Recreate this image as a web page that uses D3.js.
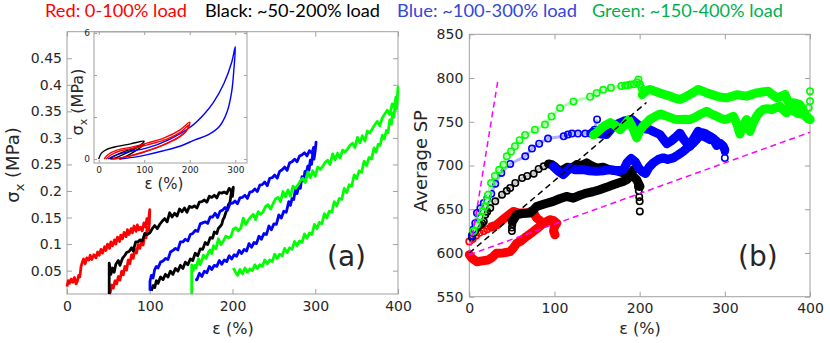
<html>
<head>
<style>
body{margin:0;background:#fff;}
svg text{font-family:"DejaVu Sans",sans-serif;fill:#262626;}
</style>
</head>
<body>
<script src="https://d3js.org/d3.v7.min.js"></script>
<div id="chart"></div>
<script>
// ---------- data ----------
var titleLabels = ["Red: 0-100% load", "Black: ~50-200% load", "Blue: ~100-300% load", "Green: ~150-400% load"];
var titleColors = ["#ff0000", "#000000", "#3347d8", "#00b04f"];

var ticksA_x = [0, 100, 200, 300, 400];
var ticksA_y = [0.05, 0.1, 0.15, 0.2, 0.25, 0.3, 0.35, 0.4, 0.45];
var ticksB_x = [0, 100, 200, 300, 400];
var ticksB_y = [550, 600, 650, 700, 750, 800, 850];
var ticksI_x = [0, 100, 200, 300];
var ticksI_y = [0, 2, 4, 6];
var labelsI_y = {0: "0", 6: "6"};

// panel (a): strain (%) vs stress (MPa), load then unload
var redA = [[0,0.02],[1.5,0.031],[3,0.026],[5,0.034],[7,0.028],[9,0.037],[11,0.025],[12.5,0.03],[14,0.041],[15.5,0.038],[17,0.058],[18.5,0.066],[20,0.072],[22,0.063],[24,0.074],[26.5,0.07],[28,0.079],[30,0.071],[32.5,0.08],[35,0.074],[37,0.085],[39,0.079],[41,0.09],[43,0.083],[45.5,0.095],[47,0.088],[49,0.1],[51.5,0.092],[53,0.104],[55,0.097],[57.5,0.108],[59,0.1],[61,0.113],[63.5,0.105],[65,0.117],[67,0.11],[69,0.122],[71.5,0.114],[73,0.127],[75,0.118],[77.5,0.129],[79,0.121],[81,0.134],[83.5,0.124],[85,0.136],[87,0.127],[89,0.132],[91,0.125],[93,0.14],[95,0.132],[96.5,0.148],[98,0.138],[99.5,0.158],[100,0.165],
  [99.5,0.138],[98.5,0.126],[97,0.131],[95.5,0.112],[94,0.119],[92,0.098],[90,0.105],[88,0.092],[86,0.099],[84,0.083],[82,0.09],[80,0.073],[78,0.08],[76,0.063],[74,0.07],[72,0.051],[70,0.058],[68,0.042],[66,0.049],[64,0.032],[62,0.039],[60,0.025],[58,0.031],[56,0.017],[54,0.023],[52.5,0.01],[51,0.006]];

var blackA = [[51,0.006],[51,0.064],[53,0.043],[55,0.055],[57,0.047],[59,0.062],[62,0.069],[64,0.06],[67,0.073],[70,0.079],[72,0.084],[75,0.086],[78,0.093],[80,0.087],[83,0.104],[86,0.104],[88,0.108],[91,0.106],[94,0.12],[97,0.118],[100,0.121],[103,0.129],[106,0.135],[109,0.129],[112,0.137],[115,0.143],[118,0.148],[121,0.142],[124,0.159],[127,0.151],[130,0.158],[133,0.153],[136,0.166],[139,0.161],[142,0.168],[145,0.16],[148,0.171],[151,0.169],[154,0.172],[157,0.168],[160,0.179],[163,0.18],[166,0.183],[169,0.179],[172,0.19],[175,0.188],[178,0.192],[181,0.187],[184,0.197],[187,0.196],[190,0.198],[193,0.195],[196,0.205],[199,0.199],[201,0.207],
  [200,0.19],[198.5,0.197],[197,0.179],[195,0.174],[193.5,0.164],[192,0.16],[190,0.15],[188.5,0.146],[187,0.137],[185,0.133],[183,0.13],[181,0.12],[178,0.123],[176,0.111],[173,0.112],[170,0.099],[167,0.103],[164,0.09],[161,0.091],[158,0.078],[155,0.083],[152,0.069],[149,0.072],[146,0.061],[143,0.066],[140,0.054],[137,0.06],[134,0.049],[131,0.054],[128,0.043],[125,0.049],[122,0.038],[119,0.043],[116,0.033],[113,0.038],[110,0.026],[108,0.031],[106,0.018],[104,0.022],[102,0.012]];

var blueA = [[100.3,0.012],[100.3,0.03],[102,0.041],[104,0.036],[106,0.052],[108,0.058],[110,0.055],[113,0.066],[116,0.068],[119,0.073],[122,0.071],[125,0.085],[128,0.088],[131,0.092],[134,0.089],[137,0.104],[140,0.104],[143,0.109],[146,0.106],[149,0.118],[152,0.12],[155,0.126],[158,0.124],[161,0.138],[164,0.14],[167,0.142],[170,0.139],[173,0.151],[176,0.151],[179,0.158],[182,0.15],[185,0.162],[188,0.164],[191,0.169],[194,0.164],[197,0.176],[200,0.177],[203,0.181],[206,0.176],[209,0.187],[212,0.188],[215,0.192],[218,0.186],[221,0.198],[224,0.199],[227,0.204],[230,0.199],[233,0.211],[236,0.212],[239,0.217],[242,0.21],[245,0.224],[248,0.225],[251,0.23],[254,0.224],[257,0.237],[260,0.24],[263,0.245],[266,0.239],[269,0.253],[272,0.255],[275,0.26],[278,0.255],[281,0.266],[284,0.268],[287,0.272],[290,0.266],[293,0.276],[296,0.271],[298,0.282],[300,0.277],[301,0.292],
  [300,0.276],[298.5,0.26],[297,0.27],[295.5,0.25],[294,0.258],[292.5,0.239],[291,0.247],[289,0.233],[287.5,0.237],[286,0.219],[284,0.227],[282,0.205],[280,0.209],[278,0.195],[276,0.203],[274,0.184],[272,0.186],[270,0.173],[268,0.18],[265,0.16],[262,0.162],[259,0.149],[256,0.155],[253,0.137],[250,0.138],[247,0.127],[244,0.134],[241,0.118],[238,0.12],[235,0.109],[232,0.115],[229,0.101],[226,0.103],[223,0.094],[220,0.101],[217,0.087],[214,0.09],[211,0.082],[208,0.088],[205,0.077],[202,0.08],[199,0.072],[196,0.078],[193,0.067],[190,0.07],[187,0.062],[184,0.069],[181,0.058],[178,0.06],[175,0.052],[172,0.058],[169,0.046],[166,0.049],[163,0.039],[160,0.045],[157,0.033],[155,0.032]];

var greenA = [[150.7,0.006],[150.7,0.061],[152.5,0.05],[154.5,0.06],[156,0.055],[159,0.072],[161,0.061],[163,0.07],[165,0.079],[168,0.073],[171,0.084],[173,0.089],[175,0.082],[177,0.097],[180,0.091],[183,0.11],[186,0.099],[189,0.106],[192,0.115],[195,0.112],[198,0.114],[201,0.128],[204,0.131],[207,0.125],[210,0.13],[213,0.149],[216,0.137],[219,0.145],[222,0.151],[225,0.156],[228,0.146],[231,0.161],[234,0.156],[237,0.161],[240,0.171],[243,0.174],[246,0.166],[249,0.176],[252,0.185],[255,0.188],[258,0.18],[261,0.199],[264,0.189],[267,0.202],[270,0.19],[273,0.209],[276,0.205],[279,0.211],[282,0.219],[285,0.224],[288,0.216],[291,0.236],[294,0.225],[297,0.238],[300,0.228],[303,0.245],[306,0.241],[309,0.246],[312,0.254],[315,0.258],[318,0.25],[321,0.27],[324,0.259],[327,0.271],[330,0.262],[333,0.277],[336,0.273],[339,0.279],[342,0.286],[345,0.29],[348,0.282],[351,0.301],[354,0.291],[357,0.304],[360,0.294],[363,0.313],[366,0.309],[369,0.317],[372,0.325],[375,0.331],[378,0.323],[381,0.338],[384,0.345],[387,0.352],[390,0.344],[393,0.364],[395.5,0.358],[397.5,0.377],[399,0.372],[400,0.395],
  [399,0.366],[398,0.354],[396.5,0.362],[395,0.339],[393.5,0.347],[392,0.326],[390,0.334],[388,0.31],[386,0.314],[383.5,0.298],[381,0.305],[378.5,0.286],[376,0.288],[373.5,0.273],[371,0.281],[368,0.26],[365,0.263],[362,0.248],[359,0.256],[356,0.235],[353,0.238],[350,0.223],[347,0.23],[344,0.209],[341,0.212],[338,0.197],[335,0.205],[332,0.184],[329,0.186],[326,0.172],[323,0.18],[320,0.16],[317,0.162],[314,0.149],[311,0.157],[308,0.138],[305,0.141],[302,0.129],[299,0.137],[296,0.118],[293,0.121],[290,0.111],[287,0.119],[284,0.103],[281,0.106],[278,0.097],[275,0.105],[272,0.09],[269,0.093],[266,0.084],[263,0.092],[260,0.078],[257,0.081],[254,0.073],[251,0.081],[248,0.067],[245,0.07],[242,0.063],[239,0.07],[236,0.058],[233,0.061],[230,0.054],[227,0.061],[224,0.05],[221,0.053],[218,0.047],[215,0.055],[212,0.044],[209,0.052],[206,0.041],[203,0.049],[201,0.055]];

// inset: smooth loops, strain (%) vs stress (MPa)
var blackI1 = [[0,0],[6,0.28],[18,0.46],[40,0.6],[70,0.72],[100,0.85],[96,0.74],[82,0.52],[64,0.32],[46,0.14],[32,0.02],[26,0]];
var blackI2 = [[24,0],[34,0.14],[54,0.34],[78,0.52],[100,0.7],[95,0.6],[80,0.38],[62,0.15],[46,0]];
var redI1 = [[12,0],[20,0.2],[40,0.42],[75,0.58],[110,0.78],[145,1.02],[178,1.38],[200,1.75],[196,1.45],[180,1.1],[150,0.75],[115,0.45],[80,0.2],[45,0.04],[30,0]];
var redI2 = [[16,0],[26,0.18],[46,0.38],[80,0.53],[115,0.72],[150,0.95],[180,1.28],[198,1.62],[192,1.32],[172,0.98],[140,0.65],[105,0.38],[70,0.16],[40,0.02],[32,0]];
var blueI = [[20,0],[34,0.15],[60,0.33],[105,0.52],[157,0.95],[200,1.5],[230,2.1],[252,2.7],[275,3.6],[292,4.6],[300,5.35],[297,4.3],[292,3.2],[282,2.25],[265,1.55],[240,1.15],[210,0.9],[180,0.62],[140,0.38],[105,0.2],[75,0.08],[45,0]];

// panel (b): strain (%) vs average SP
var redCirclesB = [[0,613],[4,616],[8,620],[12,623],[17,625],[21,627],[26,629]];
var redLowerB = [[0,598],[3,594],[8.7,590],[15,591],[22,592],[27,595],[32,599.8],[40,600],[48,601.6],[52,606],[55.6,611],[61,614],[67,618.8],[75,624.5],[81,629],[87,634],[94.7,638],[99,637],[102.6,634],[100,630],[99,625],[100.6,620.7]];
var redUpperB = [[26,630],[32,632],[38,637],[44,641.7],[51.6,647.5],[57,646],[63.4,645.6],[68,646],[73,647.5],[76,645],[79,640],[83,637]];

var blackCirclesB = [[3,618],[5,622.7],[7,626],[9,628.4],[11,631],[13,632.2],[15,634],[17,636],[18.8,643.7],[21,647],[24.6,651.3],[30.5,659],[38.4,666.6],[44,671],[48,674.3],[54,680],[62,685.7],[68,688],[75.6,690.7],[81.4,696],[87.3,699],[93,701.8]];
var blackExtraB = [[50,625],[50,629],[50.5,633],[198,676],[199,671],[199.5,664],[200,659],[200.2,647.5]];
var blackTopB = [[93,701.8],[97,701],[100,699],[105,694],[110,695],[115,698],[120,697],[126,701],[132,700],[137.8,703],[143,700],[149.5,697],[157,698],[165,695],[173,694],[181,691.5],[187,690],[192.5,687.6],[196.5,683.8],[200.4,676]];
var blackLowerB = [[50.5,636],[55.6,643.7],[62,645],[71,645.6],[75,649],[79,653],[88,656],[98.6,659],[106,662],[114,664.6],[122,662.7],[130,666],[137.8,668.5],[145,670],[153,672.3],[161,675],[169,678],[175,680],[181,681.8],[185,684],[188.6,687.6],[191,692],[192.5,695]];

var blueCirclesB = [[3,620],[5,627],[7,634],[9,645.6],[13,651],[17,657],[21,662],[25.8,667.7],[30.5,679.2],[37.6,691.5],[48,701.8],[65.7,710.5],[73.6,719.3],[82,725],[92.4,730.8],[110.8,733.4],[115.8,735.4],[120.5,736.5],[127.6,736.5],[136,736.5],[142,736.5],[147,741],[150,752.6]];
var blueExtraB = [[300,716],[300,708.6]];
var blueUpperB = [[145,738],[149.5,737.3],[155,736],[161,735.4],[165,740],[169,745],[175,748],[181,750.6],[190.6,752.6],[195,749],[200,745],[206,742],[212,741],[218,738],[223.8,735.4],[228,730],[232,725],[237,728],[243.4,733.4],[247.3,737],[251,731],[255,726],[259,722],[263,730],[268.8,739.2],[274,734],[282.5,729.6],[286,731],[290.4,723],[295,725],[298.2,722],[300,718]];
var blueLowerB = [[98.6,699],[104,694],[110.4,689.5],[115,694],[118,697.2],[125,695],[133.8,695.3],[141,694],[149.5,693.3],[157,694],[165,695.3],[173,694],[181,695],[185,703],[190,708],[195,704],[199,697],[203,693],[207,691],[211,698],[216,703],[222,707],[227.7,708.7],[233,707],[239.5,708.7],[245,712],[251.2,716.2],[257,721],[263,725.8],[269,732],[274.6,737.3],[278,736],[282.5,733.4],[286,731],[290.4,727.7]];

var greenCirclesB = [[5,625],[9,632],[13,641],[16,648],[18.4,653],[20.5,660],[22,666.6],[25.5,680],[30,688],[35,695],[40,701],[44,710.5],[49,716],[53.6,722],[59,729],[65.5,735],[77,741],[88.8,746.8],[96.5,756],[106.6,765.7],[122.3,773.2],[141.8,778.6],[149.5,783],[157.2,786.5],[166.3,789],[178.5,790.8],[183,791.4],[186,791.8],[189,792.5],[193,793],[197,795],[198.6,798.4],[200.4,793],[202,789],[204,785]];
var greenExtraB = [[400,785],[400,773.5],[398.5,766]];
var greenUpperB = [[203,781],[207,785],[212,787],[218,785],[223.8,783],[230,781],[235.6,779.3],[241,777],[247.3,775.5],[253,778],[259,781.3],[264,784],[268.8,787],[274,785],[278.6,783],[285,781],[290.4,779.3],[296,778],[302,777.4],[308,779],[313.8,781],[320,780],[325.6,779.3],[331,781],[337.3,783],[344,784],[351,785],[356,781],[360.8,777.4],[366,779],[370.6,781.3],[374,774],[376.4,768],[380,763],[384.3,760.3],[388,759],[392,758.4],[396,755],[400,752.6]];
var greenLowerB = [[146,735],[150,738],[155.5,743],[160,746],[165.5,749],[171,746],[177,741],[182,746],[187,752],[191,745],[196.5,731.6],[200.4,740],[204,745],[208.2,748.8],[212,752.6],[218,756],[223.8,759],[230,757],[235.6,755],[241,753],[247.3,752.6],[253,753],[259,752.6],[265,755],[270.8,758.3],[278.6,762],[284,759],[290.4,756.4],[295,754],[300,752.6],[305,754],[310,756.4],[314,748],[317.7,736],[321,745],[325.6,752.6],[329.5,739],[333,748],[337.3,756.4],[341,761],[345,764],[350,765],[355,764],[360,766],[364.7,768],[368,764],[372.5,760.3],[376,766],[380.3,771.7],[384,771],[388,769.7],[392,763],[396,756.4],[400,752.6]];

var magentaSlowB = [[0,598],[400,738]];
var magentaFastB = [[0,597],[34,800]];
var blackGuideB = [[0,600],[208,772]];

// ---------- layout ----------
var svg = d3.select("#chart").append("svg")
  .attr("width", 830).attr("height", 343);

var frameColor = "#a0a0a0";

var xA = d3.scaleLinear().domain([0, 400]).range([67, 398]);
var yA = d3.scaleLinear().domain([0.006, 0.5]).range([294, 31.7]);
var xB = d3.scaleLinear().domain([0, 400]).range([469.3, 810]);
var yB = d3.scaleLinear().domain([550, 850]).range([296.7, 34.3]);
var xI = d3.scaleLinear().domain([-10.3, 325.7]).range([94, 247]);
var yI = d3.scaleLinear().domain([-0.19, 6.05]).range([163, 32]);

// box with inward ticks on all four sides
function drawBox(x, y, xt, yt, o) {
  var g = svg.append("g");
  var r = x.range(), s = y.range();
  if (o.fill) {
    g.append("rect").attr("x", r[0]).attr("y", s[1])
      .attr("width", r[1] - r[0]).attr("height", s[0] - s[1]).attr("fill", "#fff");
  }
  g.append("g").attr("transform", "translate(0," + s[0] + ")")
    .call(d3.axisBottom(x).tickValues(xt).tickSize(-o.tick).tickPadding(o.padX).tickFormat(o.fx || d3.format("")));
  g.append("g").attr("transform", "translate(0," + s[1] + ")")
    .call(d3.axisTop(x).tickValues(xt).tickSize(-o.tick).tickFormat(""));
  g.append("g").attr("transform", "translate(" + r[0] + ",0)")
    .call(d3.axisLeft(y).tickValues(yt).tickSize(-o.tick).tickPadding(o.padY).tickFormat(o.fy || d3.format("")));
  g.append("g").attr("transform", "translate(" + r[1] + ",0)")
    .call(d3.axisRight(y).tickValues(yt).tickSize(-o.tick).tickFormat(""));
  g.selectAll(".domain").remove();
  g.selectAll(".tick line").attr("stroke", frameColor);
  g.selectAll(".tick text").attr("font-family", "DejaVu Sans, sans-serif")
    .attr("font-size", o.font).style("fill", "#262626");
  g.append("rect").attr("x", r[0]).attr("y", s[1])
    .attr("width", r[1] - r[0]).attr("height", s[0] - s[1])
    .attr("fill", "none").attr("stroke", frameColor).attr("stroke-width", 1);
  return g;
}

// ---------- title ----------
var titleX = [45, 205, 397, 592], titleW = [142, 175, 180, 191];
svg.selectAll(".title").data(titleLabels).join("text")
  .attr("class", "title")
  .attr("x", function(d, i){ return titleX[i]; })
  .attr("y", 17)
  .attr("textLength", function(d, i){ return titleW[i]; })
  .attr("lengthAdjust", "spacingAndGlyphs")
  .style("font-family", "Lato, sans-serif")
  .style("font-size", "18px")
  .style("fill", function(d, i){ return titleColors[i]; })
  .text(function(d){ return d; });

// ---------- panel (a) ----------
drawBox(xA, yA, ticksA_x, ticksA_y, {tick: 5, padX: 7, padY: 5, font: 14, fy: d3.format("")});

var lineA = d3.line().x(function(d){ return xA(d[0]); }).y(function(d){ return yA(d[1]); });
var seriesA = [[redA, "#ff0000"], [blackA, "#000000"], [blueA, "#0000ff"], [greenA, "#00ff00"]];
svg.append("g").selectAll("path").data(seriesA).join("path")
  .attr("d", function(d){ return lineA(d[0]); })
  .attr("fill", "none")
  .attr("stroke", function(d){ return d[1]; })
  .attr("stroke-width", 2.8)
  .attr("stroke-linejoin", "round");

svg.append("text").attr("x", 327).attr("y", 266)
  .style("font-size", "28px").text("(a)");

svg.append("text").attr("transform", "translate(19,165) rotate(-90)")
  .attr("text-anchor", "middle").style("font-size", "18px")
  .html("σ<tspan dy='5' font-size='13'>x</tspan><tspan dy='-5'> (MPa)</tspan>");

svg.append("text").attr("x", 233).attr("y", 334).attr("text-anchor", "middle")
  .style("font-size", "16px").text("ε (%)");

// ---------- inset ----------
drawBox(xI, yI, ticksI_x, ticksI_y, {fill: true, tick: 3, padX: 4, padY: 4, font: 9,
  fy: function(d){ return labelsI_y[d] || ""; }});

var lineI = d3.line().curve(d3.curveCatmullRom.alpha(0.5))
  .x(function(d){ return xI(d[0]); }).y(function(d){ return yI(d[1]); });
var seriesI = [[blackI1, "#000000"], [blackI2, "#000000"], [blueI, "#0000ff"], [redI1, "#ff0000"], [redI2, "#ff0000"]];
svg.append("g").selectAll("path").data(seriesI).join("path")
  .attr("d", function(d){ return lineI(d[0]); })
  .attr("fill", "none")
  .attr("stroke", function(d){ return d[1]; })
  .attr("stroke-width", 1.4);

svg.append("text").attr("transform", "translate(83,102) rotate(-90)")
  .attr("text-anchor", "middle").style("font-size", "16px")
  .html("σ<tspan dy='4' font-size='11'>x</tspan><tspan dy='-4'> (MPa)</tspan>");
svg.append("text").attr("x", 164).attr("y", 189).attr("text-anchor", "middle")
  .style("font-size", "15px").text("ε (%)");

// ---------- panel (b) ----------
drawBox(xB, yB, ticksB_x, ticksB_y, {tick: 5, padX: 6, padY: 6, font: 14});

var lineB = d3.line().x(function(d){ return xB(d[0]); }).y(function(d){ return yB(d[1]); });
var gB = svg.append("g");

function dots(pts, color) {
  gB.append("g").selectAll("circle").data(pts).join("circle")
    .attr("cx", function(d){ return xB(d[0]); })
    .attr("cy", function(d){ return yB(d[1]); })
    .attr("r", 3.2).attr("fill", "none")
    .attr("stroke", color).attr("stroke-width", 1.6);
}
function sparse(pts, color, faint) {
  gB.append("path").attr("d", lineB(pts)).attr("fill", "none")
    .attr("stroke", faint).attr("stroke-width", 3);
  dots(pts, color);
}
function band(pts, color) {
  gB.append("path").attr("d", lineB(pts)).attr("fill", "none")
    .attr("stroke", color).attr("stroke-width", 9)
    .attr("stroke-linejoin", "round").attr("stroke-linecap", "round");
}

sparse(redCirclesB, "#ff0000", "#ffb0b0");
band(redLowerB, "#ff0000");
band(redUpperB, "#ff0000");

sparse(blackCirclesB, "#000000", "#c8c8c8");
dots(blackExtraB, "#000000");
band(blackLowerB, "#000000");
band(blackTopB, "#000000");

sparse(blueCirclesB, "#0000ff", "#b0b0ff");
dots(blueExtraB, "#0000ff");
band(blueLowerB, "#0000ff");
band(blueUpperB, "#0000ff");

sparse(greenCirclesB, "#00ff00", "#b8f5b8");
dots(greenExtraB, "#00ff00");
band(greenLowerB, "#00ff00");
band(greenUpperB, "#00ff00");

[[magentaSlowB, "#ff00ff"], [magentaFastB, "#ff00ff"], [blackGuideB, "#000000"]].forEach(function(d){
  gB.append("path").attr("d", lineB(d[0])).attr("fill", "none")
    .attr("stroke", d[1]).attr("stroke-width", 1.5)
    .attr("stroke-dasharray", "6,4");
});

svg.append("text").attr("x", 738).attr("y", 266)
  .style("font-size", "28px").text("(b)");

svg.append("text").attr("transform", "translate(427,161) rotate(-90)")
  .attr("text-anchor", "middle").style("font-size", "18px").text("Average SP");

svg.append("text").attr("x", 640).attr("y", 334).attr("text-anchor", "middle")
  .style("font-size", "16px").text("ε (%)");
</script>
</body>
</html>
